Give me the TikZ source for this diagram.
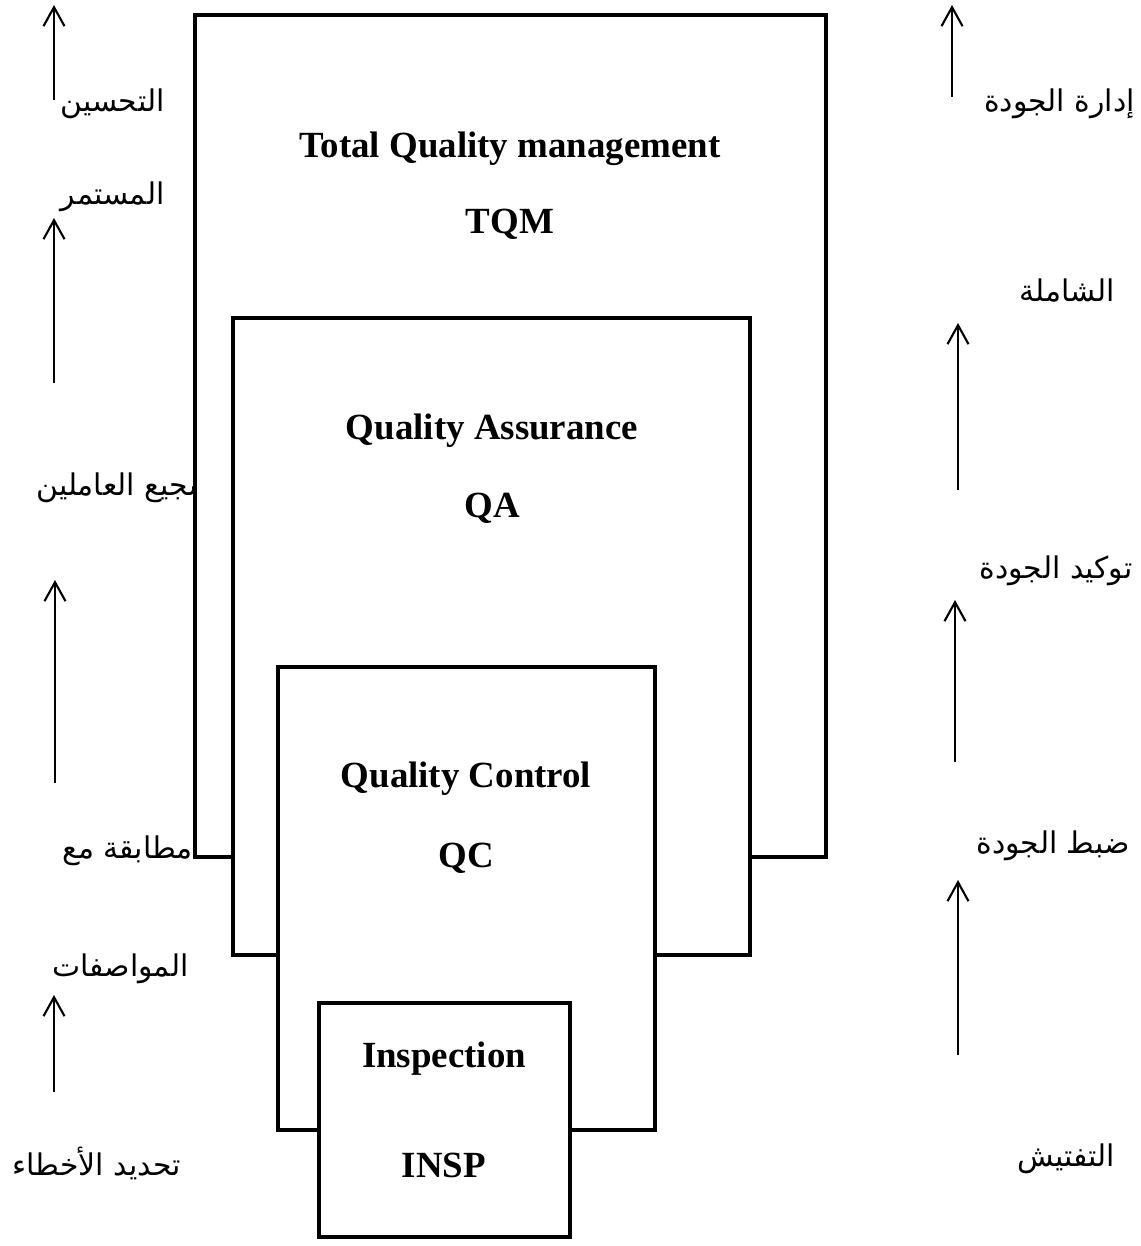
\documentclass[tikz,border=0pt]{standalone}
\usepackage{fontspec}
\setmainfont{Liberation Serif}
\newfontfamily\arabicfont[Script=Arabic]{DejaVu Sans}
\TeXXeTstate=1
\usetikzlibrary{arrows.meta, positioning}

\begin{document}
\begin{tikzpicture}[x=0.02cm, y=-0.02cm,
		box/.style={draw, line width=2.2pt, fill=white, anchor=north west, inner sep=0pt, outer sep=0pt},
		title/.style={font=\fontsize{21}{25}\selectfont\bfseries, inner sep=0pt},
		lbl/.style={font=\arabicfont\fontsize{17}{21}\selectfont, inner sep=0pt},
		up/.style={-{Straight Barb[length=0.38cm, width=0.42cm]}, line width=1.2pt}]
				\useasboundingbox[fill=white] (0,0) rectangle (1141,1246);
				
				% left column
				\node[lbl, anchor=east] (tahsin) at (165,104) {\beginR التحسين\endR};
				\node[lbl, anchor=east] (mustamir) at (165,197) {\beginR المستمر\endR};
				\node[lbl, anchor=west] (tashji) at (36,488) {\beginR تشجيع العاملين\endR};
				\node[lbl, anchor=east] (mutabaqa) at (193,851) {\beginR مطابقة مع\endR};
				\node[lbl, anchor=east] (muwasafat) at (189,969) {\beginR المواصفات\endR};
				\node[lbl, anchor=east] (tahdid) at (181,1163) {\beginR تحديد الأخطاء\endR};
				
				\coordinate (la1) at (54,100);  \coordinate (lb1) at (54,5);
				\coordinate (la2) at (54,383);  \coordinate (lb2) at (54,218);
				\coordinate (la3) at (55,783);  \coordinate (lb3) at (55,580);
				\coordinate (la4) at (54,1092); \coordinate (lb4) at (54,995);
				\draw[up] (la1) -- (lb1);
				\draw[up] (la2) -- (lb2);
				\draw[up] (la3) -- (lb3);
				\draw[up] (la4) -- (lb4);
				
				% right column
				\node[lbl, anchor=east] (idara) at (1135,104) {\beginR إدارة الجودة\endR};
				\node[lbl, anchor=east] (shamila) at (1115,291) {\beginR الشاملة\endR};
				\node[lbl, anchor=east] (tawkid) at (1133,571) {\beginR توكيد الجودة\endR};
				\node[lbl, anchor=east] (dabt) at (1130,846) {\beginR ضبط الجودة\endR};
				\node[lbl, anchor=east] (taftish) at (1115,1159) {\beginR التفتيش\endR};
				
				\coordinate (ra1) at (952,97);   \coordinate (rb1) at (952,5);
				\coordinate (ra2) at (958,490);  \coordinate (rb2) at (958,323);
				\coordinate (ra3) at (955,762);  \coordinate (rb3) at (955,600);
				\coordinate (ra4) at (958,1055); \coordinate (rb4) at (958,880);
				\draw[up] (ra1) -- (rb1);
				\draw[up] (ra2) -- (rb2);
				\draw[up] (ra3) -- (rb3);
				\draw[up] (ra4) -- (rb4);
				
				% nested boxes
				\node[box, minimum width=12.62cm, minimum height=16.84cm] (tqm) at (195,15) {};
				\node[title] (tqmname) at (510,149) {Total Quality management};
				\node[title] (tqmabbr) at (510,224) {TQM};
				
				\node[box, minimum width=10.34cm, minimum height=12.74cm] (qa) at (233,318) {};
				\node[title] (qaname) at (492,431) {Quality Assurance};
				\node[title] (qaabbr) at (492,508) {QA};
				
				\node[box, minimum width=7.54cm, minimum height=9.26cm] (qc) at (278,667) {};
				\node[title] (qcname) at (466,779) {Quality Control};
				\node[title] (qcabbr) at (466,858) {QC};
				
				\node[box, minimum width=5.02cm, minimum height=4.68cm] (insp) at (319,1003) {};
				\node[title] (inspname) at (444,1059) {Inspection};
				\node[title] (inspabbr) at (444,1165) {INSP};
				
				\end{tikzpicture}
\end{document}
